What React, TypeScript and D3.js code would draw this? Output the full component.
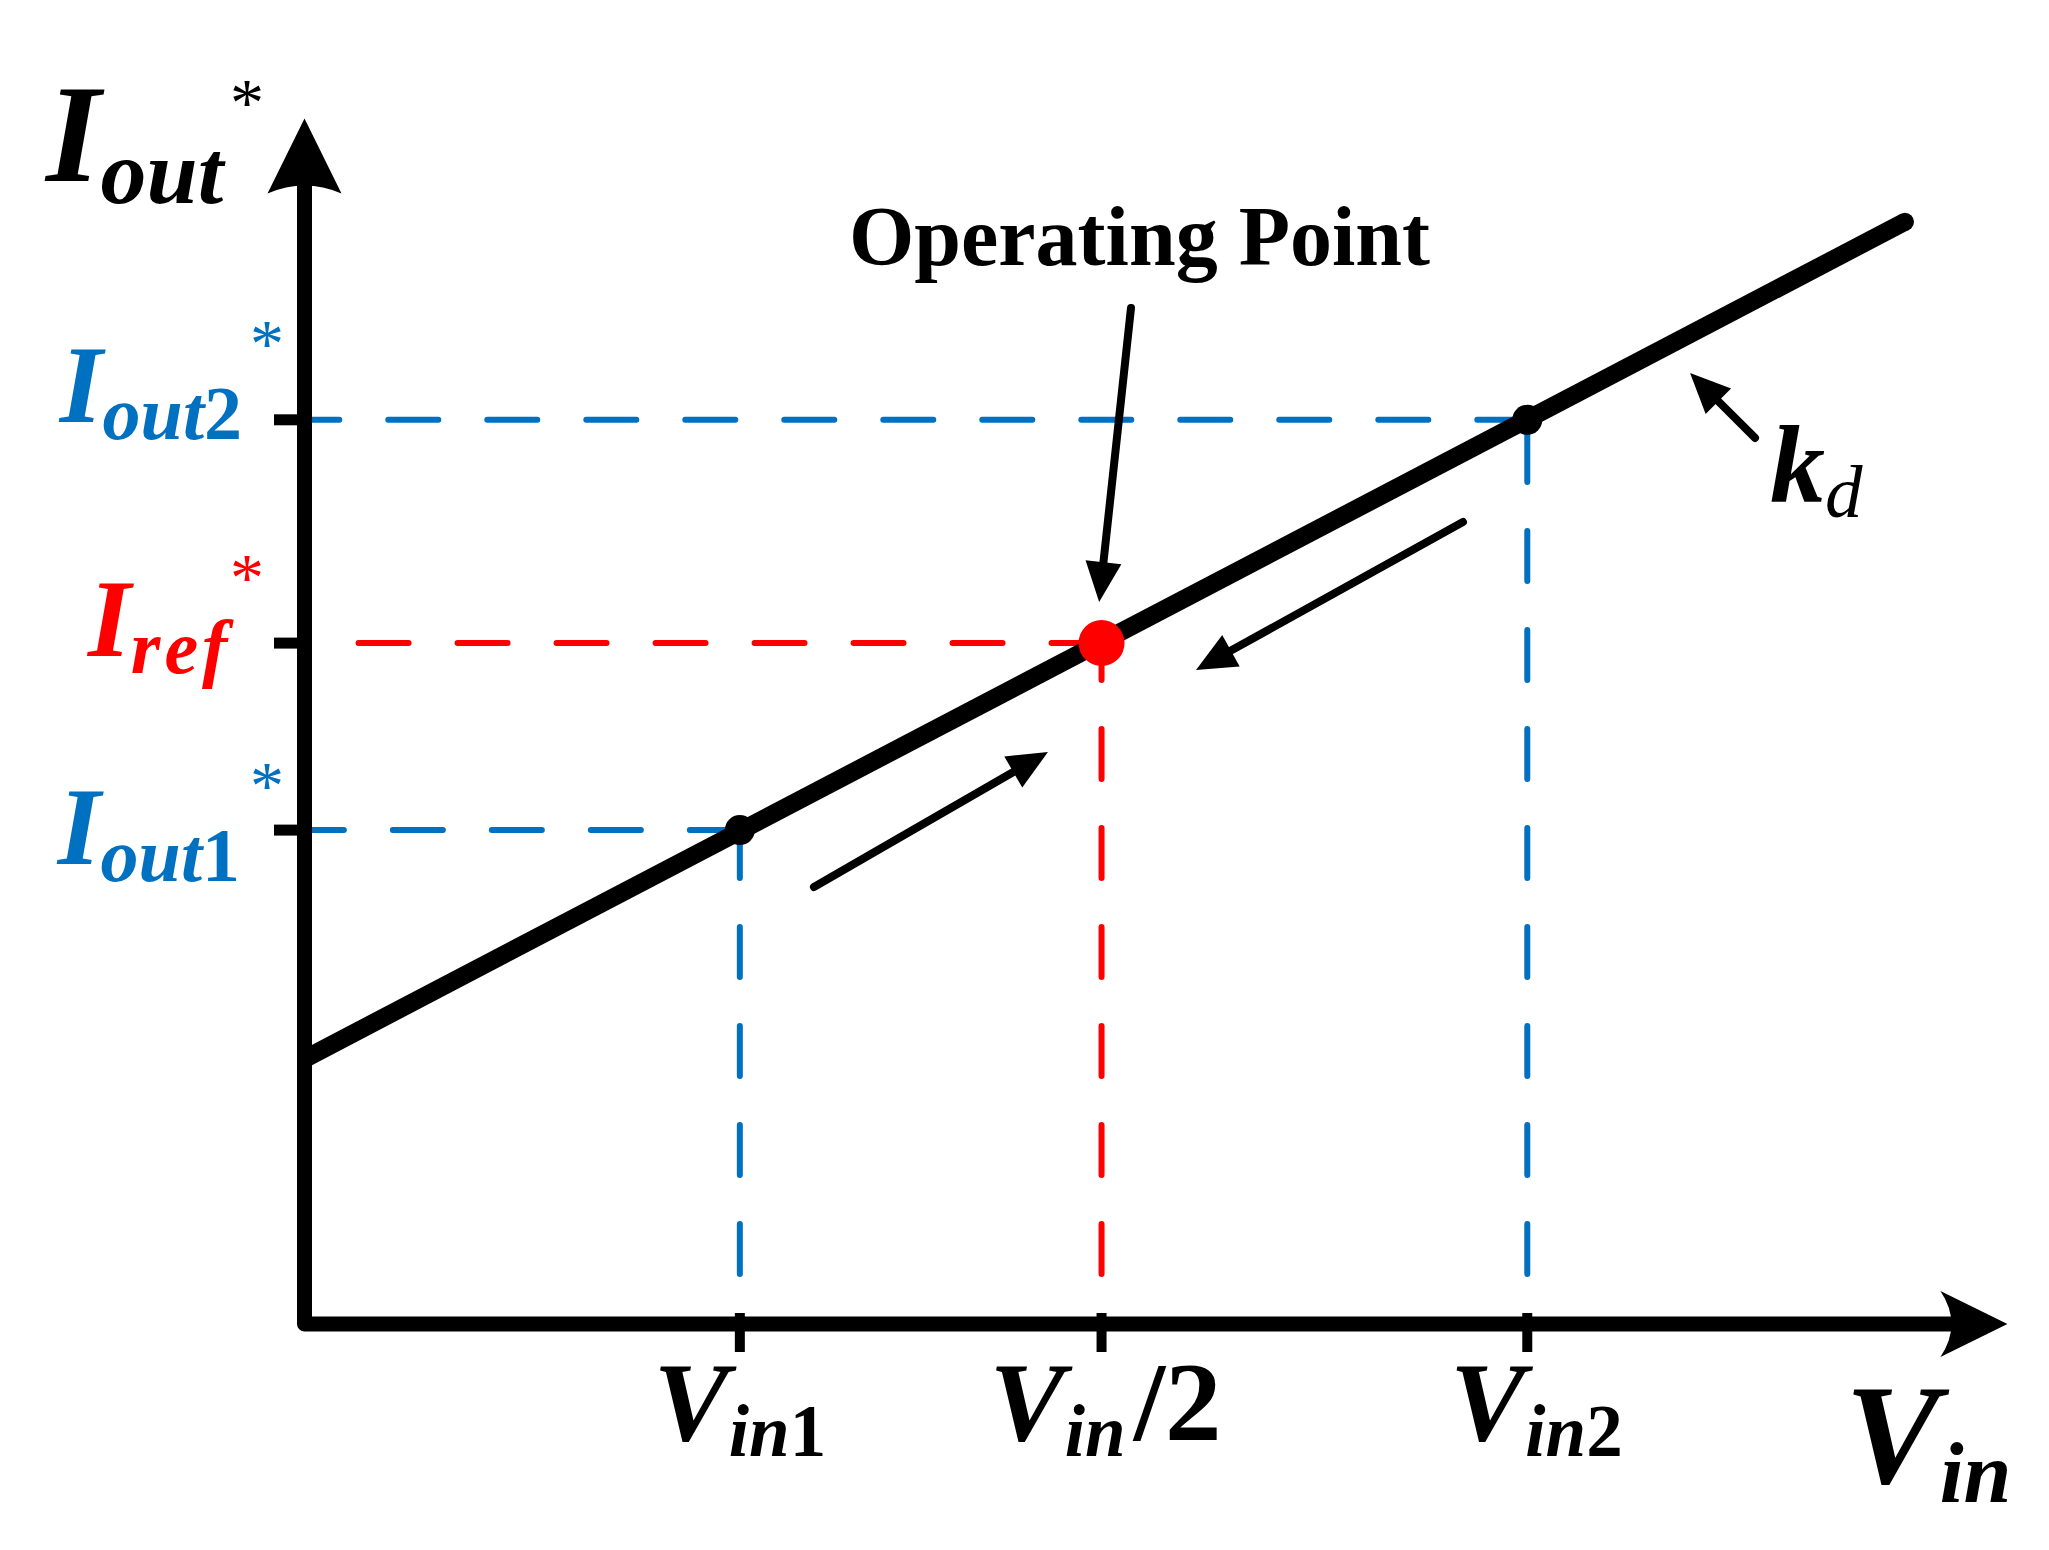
import React from 'react';
import * as d3 from 'd3';

// ---------- data (abstract units) ----------
const kdLineVin = [0, 10];
const kdLineIout = [2.41, 10.02];

const vinTickValues = [2.72, 4.98, 7.64];
const vinTickMain = ['V', 'V', 'V'];
const vinTickSub = ['in', 'in', 'in'];
const vinTickIdx = ['1', '', '2'];
const vinTickTail = ['', '/2', ''];

const ioutTickValues = [4.49, 6.19, 8.22];
const ioutTickMain = ['I', 'I', 'I'];
const ioutTickSub = ['out', 'ref', 'out'];
const ioutTickIdx = ['1', '', '2'];

const pointVin = [2.72, 4.98, 7.64];
const pointIout = [4.49, 6.19, 8.22];
const pointRole = ['limit', 'operating', 'limit'];

const arrowFromVin = [5.164, 3.183, 7.238, 9.063];
const arrowFromIout = [9.236, 3.973, 7.291, 8.055];
const arrowToVin = [4.965, 4.645, 5.57, 8.657];
const arrowToIout = [6.564, 5.2, 5.945, 8.645];

const axisMaxVin = 10.64;
const axisMaxIout = 10.96;

// ---------- styles ----------
const W = 2049;
const H = 1550;
const FONT = '"Liberation Serif", "Times New Roman", Times, serif';
const BLUE = '#0070C0';
const RED = '#FF0000';
const guideColor = [BLUE, RED, BLUE];
const ioutLabelColor = [BLUE, RED, BLUE];
const ioutLabelDy = [34, 13, 2];
const ioutLabelX = [240, 88, 242];
const ioutLabelAnchor = ['end', 'start', 'end'];
const ioutSubSpacing = [0, 4, 0];
const ioutStarX = [267, 247, 267];
const vinLabelDx = [0, 4, 9];

export default function App() {
  const x = d3.scaleLinear().domain([0, 10]).range([304.5, 1905]);
  const y = d3.scaleLinear().domain([0, 10]).range([1324, 224]);

  const x0 = x(0);
  const y0 = y(0);

  const line = d3
    .line<number>()
    .x((_, i) => x(kdLineVin[i]))
    .y((d) => y(d));

  // axis arrow heads
  const yTip = y(axisMaxIout);
  const xTip = x(axisMaxVin);
  const yHeadL = 75, yHeadW = 37;
  const xHeadL = 67, xHeadW = 33;
  const yHead = `M${x0},${yTip} L${x0 + yHeadW},${yTip + yHeadL} Q${x0},${yTip + yHeadL - 16} ${x0 - yHeadW},${yTip + yHeadL} Z`;
  const xHead = `M${xTip},${y0} L${xTip - xHeadL},${y0 - xHeadW} Q${xTip - xHeadL + 22},${y0} ${xTip - xHeadL},${y0 + xHeadW} Z`;

  const annArrows = arrowFromVin.map((_, i) => {
    const sx = x(arrowFromVin[i]);
    const sy = y(arrowFromIout[i]);
    const tx = x(arrowToVin[i]);
    const ty = y(arrowToIout[i]);
    const dx = tx - sx, dy = ty - sy;
    const len = Math.hypot(dx, dy);
    const ux = dx / len, uy = dy / len;
    const L = 40, hw = 18;
    const bx = tx - ux * L, by = ty - uy * L;
    const head = `M${tx},${ty} L${bx - uy * hw},${by + ux * hw} L${bx + uy * hw},${by - ux * hw} Z`;
    return { sx, sy, ex: bx + ux * 4, ey: by + uy * 4, head };
  });

  const dash = '50 49';
  const lineEndX = x(kdLineVin[kdLineVin.length - 1]);
  const lineEndY = y(kdLineIout[kdLineIout.length - 1]);

  return (
    <svg
      width={W}
      height={H}
      viewBox={`0 0 ${W} ${H}`}
      style={{ position: 'absolute', left: 0, top: 0, background: '#fff' }}
      fontFamily={FONT}
    >
      <rect x={0} y={0} width={W} height={H} fill="#fff" />

      {/* guide dashed lines */}
      {pointVin.map((v, i) => (
        <g key={'g' + i} stroke={guideColor[i]} strokeWidth={6} strokeLinecap="round" fill="none">
          <line x1={x(v)} y1={y(pointIout[i])} x2={x0 + 6} y2={y(pointIout[i])} strokeDasharray={dash} />
          <line x1={x(v)} y1={y0} x2={x(v)} y2={y(pointIout[i])} strokeDasharray={dash} strokeDashoffset={49} />
        </g>
      ))}

      {/* axes */}
      <path
        d={`M${x0},${yTip + yHeadL - 12} L${x0},${y0} L${xTip - xHeadL + 14},${y0}`}
        stroke="#000"
        strokeWidth={15}
        fill="none"
        strokeLinejoin="round"
        strokeLinecap="butt"
      />
      <path d={yHead} fill="#000" />
      <path d={xHead} fill="#000" />

      {/* ticks */}
      {ioutTickValues.map((v, i) => (
        <line key={'yt' + i} x1={274} x2={x0} y1={y(v)} y2={y(v)} stroke="#000" strokeWidth={11} />
      ))}
      {vinTickValues.map((v, i) => (
        <line key={'xt' + i} x1={x(v)} x2={x(v)} y1={y0 - 11} y2={y0 + 28} stroke="#000" strokeWidth={10} />
      ))}

      {/* kd characteristic line */}
      <path d={line(kdLineIout) || ''} stroke="#000" strokeWidth={18} fill="none" strokeLinecap="butt" />
      <circle cx={lineEndX} cy={lineEndY} r={9} fill="#000" />

      {/* points */}
      {pointVin.map((v, i) => (
        <circle
          key={'p' + i}
          cx={x(v)}
          cy={y(pointIout[i])}
          r={pointRole[i] === 'operating' ? 23 : 15}
          fill={pointRole[i] === 'operating' ? RED : '#000'}
        />
      ))}

      {/* annotation arrows */}
      {annArrows.map((a, i) => (
        <g key={'a' + i}>
          <line x1={a.sx} y1={a.sy} x2={a.ex} y2={a.ey} stroke="#000" strokeWidth={8} strokeLinecap="round" />
          <path d={a.head} fill="#000" />
        </g>
      ))}

      {/* axis title I_out* */}
      <text x={46} y={181} fontStyle="italic" fontWeight="bold" fill="#000">
        <tspan fontSize={140}>I</tspan>
        <tspan fontSize={92} dy={22}>out</tspan>
      </text>
      <text x={247} y={93 + 32} fontSize={68} textAnchor="middle" fill="#000">*</text>

      {/* y tick labels */}
      {ioutTickValues.map((v, i) => {
        const base = y(v) + ioutLabelDy[i];
        return (
          <g key={'yl' + i} fill={ioutLabelColor[i]}>
            <text
              x={ioutLabelX[i]}
              y={base}
              textAnchor={ioutLabelAnchor[i]}
              fontStyle="italic"
              fontWeight="bold"
            >
              <tspan fontSize={110}>{ioutTickMain[i]}</tspan>
              <tspan fontSize={76} dy={17} letterSpacing={ioutSubSpacing[i]}>{ioutTickSub[i]}</tspan>
              {ioutTickIdx[i] ? (
                <tspan fontSize={76} fontStyle="normal">{ioutTickIdx[i]}</tspan>
              ) : null}
            </text>
            <text x={ioutStarX[i]} y={base - 88 + 32} fontSize={68} textAnchor="middle">*</text>
          </g>
        );
      })}

      {/* x tick labels */}
      {vinTickValues.map((v, i) => (
        <text
          key={'xl' + i}
          x={x(v) + vinLabelDx[i]}
          y={1440}
          textAnchor="middle"
          fontStyle="italic"
          fontWeight="bold"
          fill="#000"
        >
          <tspan fontSize={113}>{vinTickMain[i]}</tspan>
          <tspan fontSize={73} dy={16}>{vinTickSub[i]}</tspan>
          {vinTickIdx[i] ? (
            <tspan fontSize={73} fontStyle="normal">{vinTickIdx[i]}</tspan>
          ) : null}
          {vinTickTail[i] ? (
            <tspan fontSize={113} dy={-16} dx={8} fontStyle="normal">{vinTickTail[i]}</tspan>
          ) : null}
        </text>
      ))}

      {/* x axis title V_in */}
      <text x={1845} y={1483} fontStyle="italic" fontWeight="bold" fill="#000">
        <tspan fontSize={142}>V</tspan>
        <tspan fontSize={86} dy={19}>in</tspan>
      </text>

      {/* k_d label */}
      <text x={1770} y={502} fontStyle="italic" fill="#000">
        <tspan fontSize={110} fontWeight="bold">k</tspan>
        <tspan fontSize={75} dy={15}>d</tspan>
      </text>

      {/* Operating Point label */}
      <text x={849} y={265} fontSize={84} fontWeight="bold" fill="#000">Operating Point</text>
    </svg>
  );
}
